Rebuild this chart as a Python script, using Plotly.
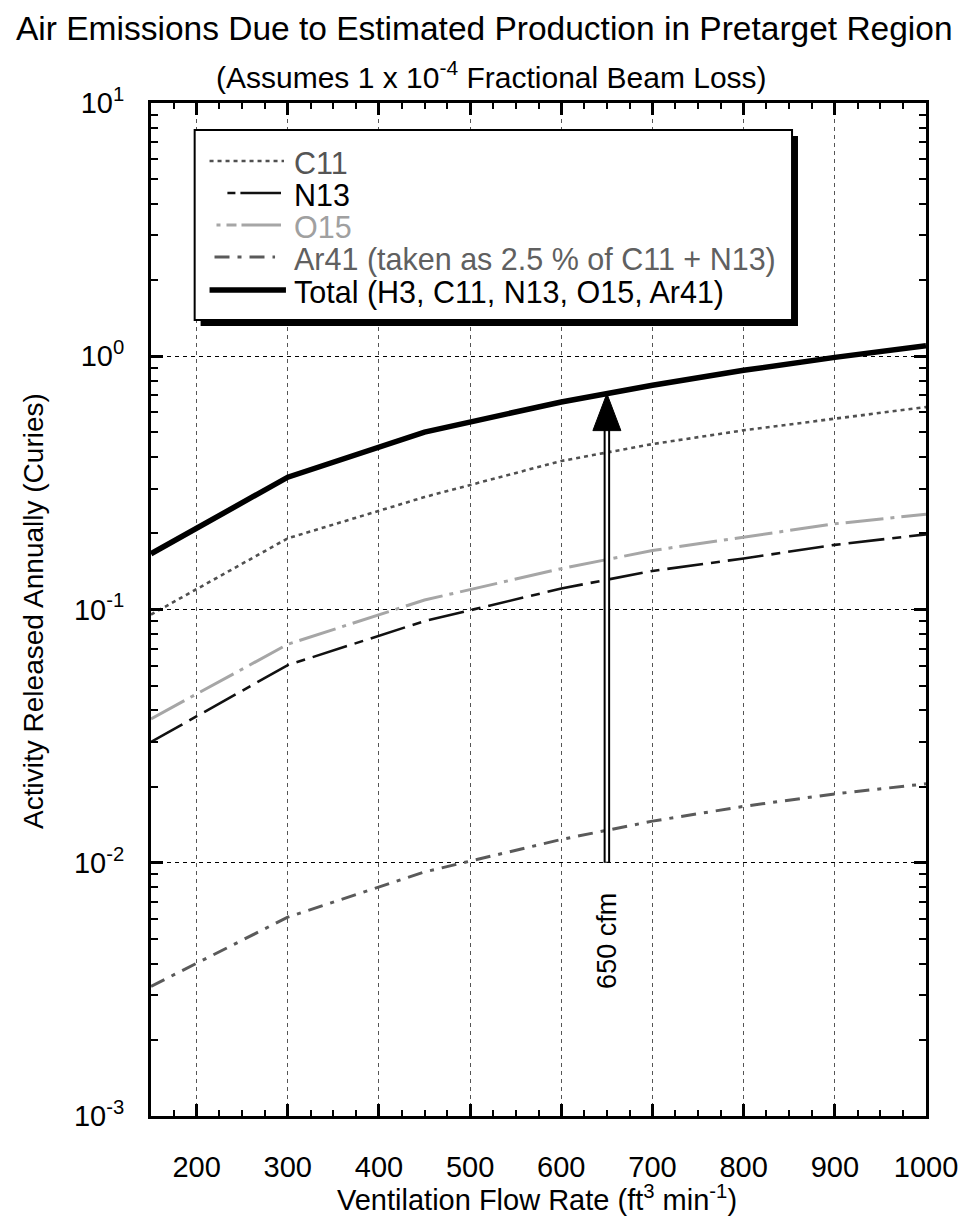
import numpy as np
import plotly.graph_objects as go

# ---------------- data ----------------
flow = [150, 300, 450, 600, 700, 800, 900, 1000]
c11 = [0.0955, 0.191, 0.278, 0.386, 0.45, 0.51, 0.567, 0.63]
n13 = [0.030, 0.0603, 0.090, 0.121, 0.142, 0.159, 0.180, 0.198]
o15 = [0.037, 0.0729, 0.109, 0.145, 0.171, 0.193, 0.218, 0.238]
ar41 = [0.00325, 0.0061, 0.0092, 0.01236, 0.0146, 0.0167, 0.0187, 0.0205]
total = [0.166, 0.333, 0.502, 0.66, 0.768, 0.88, 0.99, 1.10]

series_names = ["C11", "N13", "O15", "Ar41 (taken as 2.5 % of C11 + N13)",
                "Total (H3, C11, N13, O15, Ar41)"]
x_tick_vals = [200, 300, 400, 500, 600, 700, 800, 900, 1000]
y_tick_vals = [1e-3, 1e-2, 1e-1, 1e0, 1e1]
y_tick_text = ["10<sup>-3</sup>", "10<sup>-2</sup>", "10<sup>-1</sup>",
               "10<sup>0</sup>", "10<sup>1</sup>"]
marked_flow = 650
marked_label = "650 cfm"
arrow_base = 1e-2

title1 = "Air Emissions Due to Estimated Production in Pretarget Region"
title2 = "(Assumes 1 x 10<sup>-4</sup> Fractional Beam Loss)"
x_title = "Ventilation Flow Rate (ft<sup>3</sup> min<sup>-1</sup>)"
y_title = "Activity Released Annually (Curies)"

# ---------------- layout geometry ----------------
W, H = 970, 1219
L, R, T, B = 151, 932, 103, 1116
FONT = "Liberation Sans, Arial, Helvetica, sans-serif"
X_RANGE = [150, 1000]
Y_RANGE = [-3, 1]


def px(x):
    return (x - L) / (R - L)


def py(y):
    return (B - y) / (B - T)


def xdata_paper(v):
    return (v - X_RANGE[0]) / (X_RANGE[1] - X_RANGE[0])


def ylog_paper(lv):
    return (lv - Y_RANGE[0]) / (Y_RANGE[1] - Y_RANGE[0])


styles = [
    dict(color="#505050", width=2.6, dash="4px,4px"),
    dict(color="#111111", width=2.6, dash="36px,8px,9px,8px"),
    dict(color="#a6a6a6", width=3.0, dash="38px,7px,4px,7px"),
    dict(color="#5a5a5a", width=3.0, dash="15px,8px,4px,8px"),
    dict(color="#000000", width=5.5, dash="solid"),
]
text_colors = ["#555555", "#000000", "#a0a0a0", "#606060", "#000000"]
all_series = [c11, n13, o15, ar41, total]

fig = go.Figure()
for name, vals, st in zip(series_names, all_series, styles):
    fig.add_trace(go.Scatter(x=flow, y=vals, mode="lines", name=name,
                             line=st, showlegend=False))

minor_y = [m * 10.0 ** k for k in range(-3, 1) for m in range(2, 10)]

axis_common = dict(
    showline=True, linecolor="black", linewidth=3, mirror="ticks",
    ticks="inside", ticklen=12, tickwidth=2.5, tickcolor="black",
    showgrid=True, gridwidth=1, zeroline=False,
    tickfont=dict(family=FONT, size=29, color="black"),
)

fig.update_xaxes(
    range=X_RANGE, tickmode="array", tickvals=x_tick_vals,
    gridcolor="#555555", griddash="4px,4px",
    minor=dict(dtick=25, tick0=0, ticks="inside", ticklen=6, tickwidth=2,
               tickcolor="black", showgrid=False),
    ticklabelstandoff=23,
    **axis_common,
)
fig.update_yaxes(
    type="log", range=Y_RANGE, tickmode="array", tickvals=y_tick_vals,
    ticktext=y_tick_text, gridcolor="#000000", griddash="4px,4px",
    minor=dict(tickmode="array", tickvals=minor_y, ticks="inside", ticklen=7,
               tickwidth=2, tickcolor="black", showgrid=False),
    ticklabelstandoff=18,
    **axis_common,
)

shapes = []
annotations = []

# ---- arrow at the marked flow (paper coordinates) ----
tip_log = np.interp(marked_flow, flow, np.log10(total))
head_h, head_w = 37, 28
ax_p = xdata_paper(marked_flow)
tip_p = ylog_paper(tip_log)
base_p = ylog_paper(np.log10(arrow_base))
shaft_top_p = tip_p - (head_h - 6) / (B - T)
shapes.append(dict(type="line", xref="paper", yref="paper", x0=ax_p, x1=ax_p,
                   y0=base_p, y1=shaft_top_p,
                   line=dict(color="black", width=6.5), layer="above"))
shapes.append(dict(type="line", xref="paper", yref="paper", x0=ax_p, x1=ax_p,
                   y0=base_p + 1.0 / (B - T), y1=shaft_top_p,
                   line=dict(color="white", width=2.5), layer="above"))
shapes.append(dict(type="path", xref="paper", yref="paper", xsizemode="pixel",
                   ysizemode="pixel", xanchor=ax_p, yanchor=tip_p,
                   path=f"M{-head_w/2},{-head_h} L{head_w/2},{-head_h} L0,0 Z",
                   fillcolor="black", line=dict(color="black", width=1),
                   layer="above"))
annotations.append(dict(xref="paper", yref="paper", x=ax_p, y=py(941),
                        text=marked_label, textangle=-90, showarrow=False,
                        font=dict(family=FONT, size=27, color="black"),
                        xanchor="center", yanchor="middle"))

# ---- legend box (manual, with drop shadow) ----
bx0, by0, bx1, by1 = 195, 130, 797, 320
sh = 6
shapes.append(dict(type="rect", xref="paper", yref="paper",
                   x0=px(bx0 + sh), x1=px(bx1 + sh), y0=py(by0 + sh), y1=py(by1 + sh),
                   fillcolor="black", line=dict(width=0), layer="above"))
shapes.append(dict(type="rect", xref="paper", yref="paper",
                   x0=px(bx0), x1=px(bx1), y0=py(by0), y1=py(by1),
                   fillcolor="white", line=dict(color="black", width=2), layer="above"))

row_y = [161, 193, 225, 257, 290]
sample_x = [(210, 285), (228, 282), (217, 282), (215, 276), (210, 287)]
sample_dash = ["4px,4px", "8px,5px,42px,100px", "4px,6px,10px,5px,44px,100px",
               "15px,8px,4px,8px", "solid"]
for i, name in enumerate(series_names):
    st = styles[i]
    x0s, x1s = sample_x[i]
    shapes.append(dict(type="line", xref="paper", yref="paper",
                       x0=px(x0s), x1=px(x1s), y0=py(row_y[i]), y1=py(row_y[i]),
                       line=dict(color=st["color"], width=st["width"],
                                 dash=sample_dash[i]), layer="above"))
    annotations.append(dict(xref="paper", yref="paper", x=px(293), y=py(row_y[i] + 2),
                            text=name, showarrow=False, xanchor="left",
                            yanchor="middle",
                            font=dict(family=FONT, size=30.5, color=text_colors[i])))

# ---- titles ----
annotations.append(dict(xref="paper", yref="paper", x=px(487), y=py(28), text=title1,
                        showarrow=False, xanchor="center", yanchor="middle",
                        font=dict(family=FONT, size=33.5, color="black")))
annotations.append(dict(xref="paper", yref="paper", x=px(494), y=py(75), text=title2,
                        showarrow=False, xanchor="center", yanchor="middle",
                        font=dict(family=FONT, size=30, color="black")))
annotations.append(dict(xref="paper", yref="paper", x=px(540), y=py(1198), text=x_title,
                        showarrow=False, xanchor="center", yanchor="middle",
                        font=dict(family=FONT, size=29, color="black")))
annotations.append(dict(xref="paper", yref="paper", x=px(32), y=py(611), text=y_title,
                        showarrow=False, xanchor="center", yanchor="middle",
                        textangle=-90,
                        font=dict(family=FONT, size=28, color="black")))

fig.update_layout(
    width=W, height=H,
    margin=dict(l=L, r=W - R, t=T, b=H - B, pad=0),
    paper_bgcolor="white", plot_bgcolor="white",
    showlegend=False,
    shapes=shapes, annotations=annotations,
    font=dict(family=FONT, color="black"),
)

fig.write_html("out.html")
